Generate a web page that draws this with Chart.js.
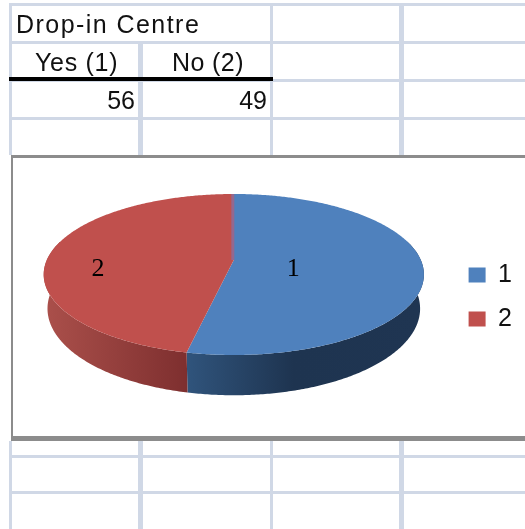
<!DOCTYPE html>
<html>
<head>
<meta charset="utf-8">
<script src="https://cdn.jsdelivr.net/npm/chart.js@4"></script>
<style>
html,body{margin:0;padding:0;background:#fff;overflow:hidden;width:525px;height:529px}
.g{position:absolute;background:#d0d8e6}
.k{position:absolute;background:#000}
.t{position:absolute;font-family:"Liberation Sans",Arial,sans-serif;font-size:25px;line-height:26px;color:#111;white-space:nowrap;filter:blur(.35px)}
#frame{position:absolute;left:11px;top:155px;width:514px;height:286px;background:#8c8c8c}
#inner{position:absolute;left:13px;top:158px;width:512px;height:278px;background:#fff}
#c{position:absolute;left:13px;top:158px;filter:blur(.45px)}
</style>
</head>
<body>
<div id="grid"></div>
<div id="frame"></div><div id="inner"></div>
<canvas id="c" width="509" height="278"></canvas>
<script>
const tableTitle = 'Drop-in Centre';
const columnHeads = ['Yes (1)', 'No (2)'];
const categories = ['1', '2'];
const values = [56, 49];
const sliceColors = ['#4F81BD', '#C0504D'];

// spreadsheet furniture
const grid = document.getElementById('grid');
function bar(cls, l, t, w, h) {
  const d = document.createElement('div');
  d.className = cls;
  d.style.cssText = `left:${l}px;top:${t}px;width:${w}px;height:${h}px`;
  grid.appendChild(d);
}
[[9,3],[270,3],[399,5]].forEach(([x,w]) => { bar('g',x,3,w,152); bar('g',x,441,w,88); });
bar('g',138,44,5,111); bar('g',138,441,5,88);
[3,41,79,117,455,491].forEach(y => bar('g',9,y,516,3));
bar('k',9,77,264,4);
function text(s, css) {
  const d = document.createElement('div');
  d.className = 't'; d.textContent = s; d.style.cssText = css;
  document.body.appendChild(d);
}
text(tableTitle, 'left:16px;top:11px;letter-spacing:1.45px');
text(columnHeads[0], 'left:35px;top:49px;letter-spacing:.7px');
text(columnHeads[1], 'left:172px;top:49px;letter-spacing:.4px');
text(String(values[0]), 'right:390px;top:87px');
text(String(values[1]), 'right:258px;top:87px');

// perspective disc, fed by the arc geometry Chart.js computes
const persp = -0.18, apexLift = 37, yGain = 31.1, depth = 33, wallNarrow = 0.98;
function proj(arc, ang, r = 1) {
  const u = Math.cos(ang) * r, v = Math.sin(ang) * r, d = 1 + persp * v;
  return { x: arc.x + arc.outerRadius * u / d, y: arc.y - apexLift + (yGain * v) / d + 260 * (1 / d - 1), d };
}
function wallGradient(ctx, i, a, b) {
  const g = ctx.createLinearGradient(a, 0, b, 0);
  if (i === 0) { g.addColorStop(0, '#1F3552'); g.addColorStop(0.55, '#1E3450'); g.addColorStop(1, '#30547C'); }
  else { g.addColorStop(0, '#7E2F2F'); g.addColorStop(1, '#AB504B'); }
  return g;
}
const disc3d = {
  id: 'disc3d',
  beforeDatasetDraw(chart, args) {
    const ctx = chart.ctx, arcs = args.meta.data;
    ctx.save();
    // walls
    arcs.forEach((arc, i) => {
      const lo = Math.max(arc.startAngle, -0.25), hi = Math.min(arc.endAngle, Math.PI + 0.25);
      if (hi <= lo) return;
      const top = [], bot = [];
      for (let t = lo; t < hi; t += 0.01) top.push(proj(arc, t));
      top.push(proj(arc, hi));
      top.forEach(p => bot.push({ x: arc.x + (p.x - arc.x) * wallNarrow, y: p.y + depth / p.d }));
      ctx.beginPath();
      top.forEach((p, n) => n ? ctx.lineTo(p.x, p.y) : ctx.moveTo(p.x, p.y));
      bot.reverse().forEach(p => ctx.lineTo(p.x, p.y));
      ctx.closePath();
      const xs = top.map(p => p.x);
      ctx.fillStyle = wallGradient(ctx, i, Math.max(...xs), Math.min(...xs));
      ctx.fill();
    });
    // top faces
    arcs.forEach((arc, i) => {
      const c = proj(arc, 0, 0);
      ctx.beginPath();
      ctx.moveTo(c.x, c.y);
      for (let t = arc.startAngle; t < arc.endAngle; t += 0.01) {
        const p = proj(arc, t); ctx.lineTo(p.x, p.y);
      }
      const e = proj(arc, arc.endAngle); ctx.lineTo(e.x, e.y);
      ctx.closePath();
      ctx.fillStyle = sliceColors[i];
      ctx.fill();
    });
    // muted seam on the far radius
    const a0 = arcs[0], c0 = proj(a0, 0, 0), s0 = proj(a0, a0.startAngle);
    ctx.strokeStyle = '#94688F'; ctx.lineWidth = 3;
    ctx.beginPath(); ctx.moveTo(c0.x - 1, c0.y); ctx.lineTo(s0.x - 1, s0.y); ctx.stroke();
    // slice labels
    const reach = [0.32, 0.73];
    ctx.fillStyle = '#000';
    ctx.font = '26px "Liberation Serif", serif';
    ctx.textAlign = 'center'; ctx.textBaseline = 'middle';
    arcs.forEach((arc, i) => {
      const mid = (arc.startAngle + arc.endAngle) / 2;
      ctx.fillText(categories[i], arc.x + Math.cos(mid) * arc.outerRadius * reach[i], arc.y - 28);
    });
    ctx.restore();
    return false;
  }
};

new Chart(document.getElementById('c'), {
  type: 'pie',
  data: { labels: categories, datasets: [{ data: values, backgroundColor: sliceColors, borderWidth: 0 }] },
  options: {
    responsive: false,
    animation: false,
    radius: 187,
    layout: { padding: { left: 5 } },
    plugins: {
      tooltip: { enabled: false },
      legend: {
        position: 'right',
        labels: { boxWidth: 17, boxHeight: 15, padding: 19, color: '#111',
          font: { size: 25, family: '"Liberation Sans", Arial, sans-serif' } }
      }
    }
  },
  plugins: [disc3d]
});
</script>
</body>
</html>
